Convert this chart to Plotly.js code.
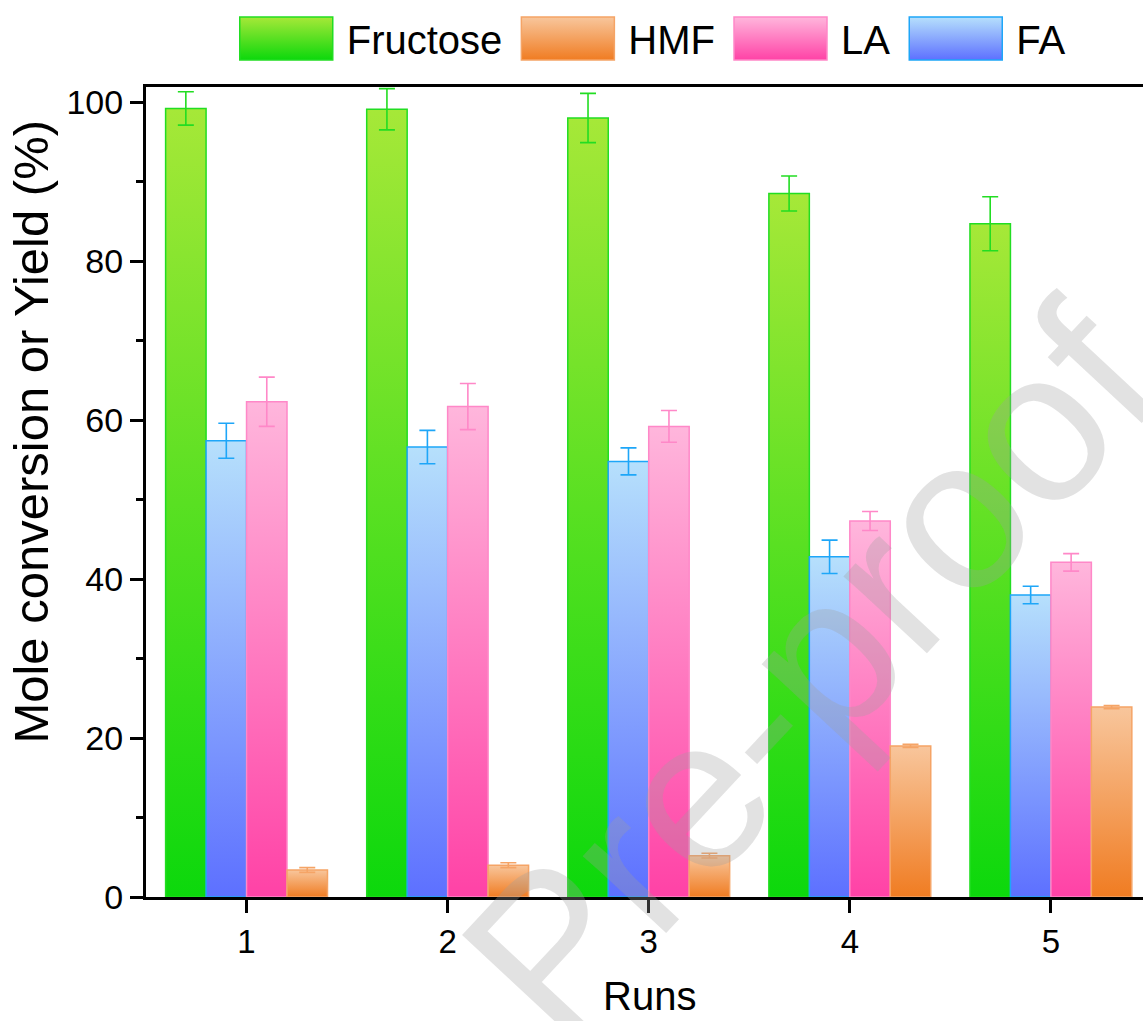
<!DOCTYPE html>
<html><head><meta charset="utf-8">
<script src="https://cdn.plot.ly/plotly-3.0.1.min.js"></script>
<style>html,body{margin:0;padding:0;background:#fff;overflow:hidden}</style>
</head><body>
<div id="chart" style="width:1143px;height:1021px"></div>
<script>
const runs = [1, 2, 3, 4, 5];
const fructose = [99.2, 99.1, 98.0, 88.5, 84.7];
const fructoseErr = [2.1, 2.6, 3.1, 2.2, 3.4];
const fa = [57.4, 56.6, 54.8, 42.8, 38.0];
const faErr = [2.2, 2.1, 1.7, 2.1, 1.1];
const la = [62.3, 61.7, 59.2, 47.3, 42.1];
const laErr = [3.1, 2.9, 2.0, 1.2, 1.1];
const hmf = [3.4, 4.0, 5.2, 19.0, 23.9];
const hmfErr = [0.3, 0.3, 0.3, 0.2, 0.2];
const yTicks = [0, 20, 40, 60, 80, 100];

const styles = {
  Fructose: {id: 'gFru', top: '#a6e838', bot: '#0cd80c', line: '#22dd22'},
  FA: {id: 'gFA', top: '#b6e0fc', bot: '#5d70ff', line: '#1ea6f8'},
  LA: {id: 'gLA', top: '#ffb6dc', bot: '#ff42a6', line: '#ff88c8'},
  HMF: {id: 'gHMF', top: '#f8c69c', bot: '#f07c22', line: '#f5a466'}
};

function mk(name, y, e, rank) {
  const s = styles[name];
  return {
    type: 'bar', name: name, x: runs, y: y, legendrank: rank,
    marker: {color: s.bot, line: {color: s.line, width: 1.5}},
    error_y: {type: 'data', array: e, visible: true, color: s.line, thickness: 1.6, width: 8}
  };
}
const data = [
  mk('Fructose', fructose, fructoseErr, 1),
  mk('FA', fa, faErr, 4),
  mk('LA', la, laErr, 3),
  mk('HMF', hmf, hmfErr, 2)
];

const F = 'Liberation Sans, Arial, sans-serif';
const layout = {
  width: 1143, height: 1021,
  margin: {l: 146, r: 0, t: 87, b: 124},
  paper_bgcolor: '#fff', plot_bgcolor: '#fff',
  barmode: 'group', bargap: 0.195, bargroupgap: 0,
  showlegend: true,
  legend: {orientation: 'h', x: 0.08, xanchor: 'left', y: 1.1, yanchor: 'top',
    font: {family: F, size: 40, color: '#000'}, itemwidth: 111, bgcolor: 'rgba(0,0,0,0)'},
  xaxis: {range: [0.5, 5.458], tickvals: runs, ticktext: runs.map(String),
    showline: true, linecolor: '#000', linewidth: 3, mirror: true,
    ticks: 'outside', ticklen: 13, tickwidth: 3, tickcolor: '#000',
    showgrid: false, zeroline: false,
    tickfont: {family: F, size: 33, color: '#000'}},
  yaxis: {range: [0, 101.9], tickvals: yTicks,
    showline: true, linecolor: '#000', linewidth: 3,
    ticks: 'outside', ticklen: 13, tickwidth: 3, tickcolor: '#000',
    minor: {tickvals: [10, 30, 50, 70, 90], ticks: 'outside', ticklen: 7, tickwidth: 2.5, tickcolor: '#000'},
    showgrid: false, zeroline: false,
    tickfont: {family: F, size: 34, color: '#000'}},
  annotations: [
    {text: 'Runs', xref: 'paper', yref: 'paper', x: 0.505, y: -0.122, xanchor: 'center', yanchor: 'middle',
      showarrow: false, font: {family: F, size: 40, color: '#000'}},
    {text: 'Mole conversion or Yield (%)', xref: 'paper', yref: 'paper', x: -0.115, y: 0.575,
      xanchor: 'center', yanchor: 'middle', textangle: -90, showarrow: false,
      font: {family: F, size: 49, color: '#000'}},
    {text: 'Pre-proof', xref: 'paper', yref: 'paper', x: 0.665, y: 0.28,
      xanchor: 'center', yanchor: 'middle', textangle: -47, showarrow: false,
      font: {family: F, size: 215, color: 'rgba(160,160,160,0.3)'}}
  ]
};

function applyGradients(gd) {
  const svg = gd.querySelector('svg.main-svg');
  if (!svg) return;
  const NS = 'http://www.w3.org/2000/svg';
  let defs = svg.querySelector('defs#customGrad');
  if (!defs) {
    defs = document.createElementNS(NS, 'defs');
    defs.setAttribute('id', 'customGrad');
    Object.values(styles).forEach(s => {
      const g = document.createElementNS(NS, 'linearGradient');
      g.setAttribute('id', s.id);
      g.setAttribute('x1', '0'); g.setAttribute('y1', '0');
      g.setAttribute('x2', '0'); g.setAttribute('y2', '1');
      [[0, s.top], [1, s.bot]].forEach(([o, c]) => {
        const st = document.createElementNS(NS, 'stop');
        st.setAttribute('offset', o);
        st.setAttribute('stop-color', c);
        g.appendChild(st);
      });
      defs.appendChild(g);
    });
    svg.insertBefore(defs, svg.firstChild);
  }
  const traces = gd.querySelectorAll('.barlayer .trace');
  traces.forEach((t, i) => {
    const s = styles[data[i].name];
    t.querySelectorAll('.point path').forEach(p => { p.style.fill = 'url(#' + s.id + ')'; });
  });
  gd.querySelectorAll('.legend .traces').forEach(t => {
    const txt = t.querySelector('.legendtext').textContent;
    const s = styles[txt];
    if (!s) return;
    t.querySelectorAll('.legendpoints path').forEach(p => {
      p.setAttribute('d', 'M-46.5,-21.5h93v43h-93Z');
      p.style.fill = 'url(#' + s.id + ')';
      p.style.stroke = s.line;
      p.style.strokeWidth = '1.5px';
    });
  });
}

const gd = document.getElementById('chart');
Plotly.newPlot(gd, data, layout, {staticPlot: true, displayModeBar: false}).then(() => applyGradients(gd));
</script>
</body></html>
